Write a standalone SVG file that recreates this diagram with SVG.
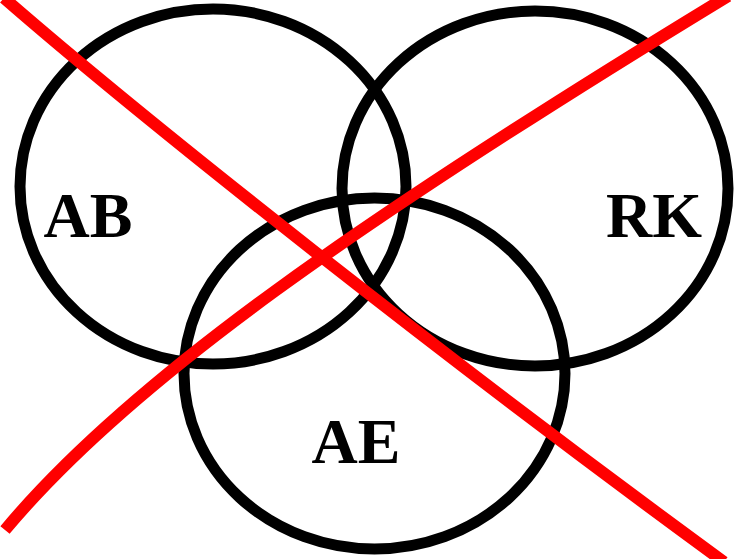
<svg xmlns="http://www.w3.org/2000/svg" width="736" height="559" viewBox="0 0 736 559">
<style>
.set{fill:none;stroke:#000;stroke-width:11}
.lbl{font-family:"Liberation Serif","Times New Roman",serif;font-weight:bold;font-size:64px;fill:#000;text-anchor:middle}
.cross{fill:none;stroke:#ff0000;stroke-width:12}
</style>
<rect width="736" height="559" fill="#fff"/>
<g id="node-AB"><ellipse class="set" cx="213" cy="186.5" rx="193" ry="177.5"/><text class="lbl" x="88" y="237">AB</text></g>
<g id="node-RK"><ellipse class="set" cx="535" cy="188.5" rx="193" ry="177.5"/><text class="lbl" x="654" y="237">RK</text></g>
<g id="node-AE"><ellipse class="set" cx="374.5" cy="373.5" rx="190.5" ry="175.5"/><text class="lbl" x="356" y="463">AE</text></g>
<g id="connectors">
<path class="cross" d="M4,-2 C150,125 450,362 724,562"/>
<path class="cross" d="M5,530 C130,380 360,220 728,-4"/>
</g>
</svg>
